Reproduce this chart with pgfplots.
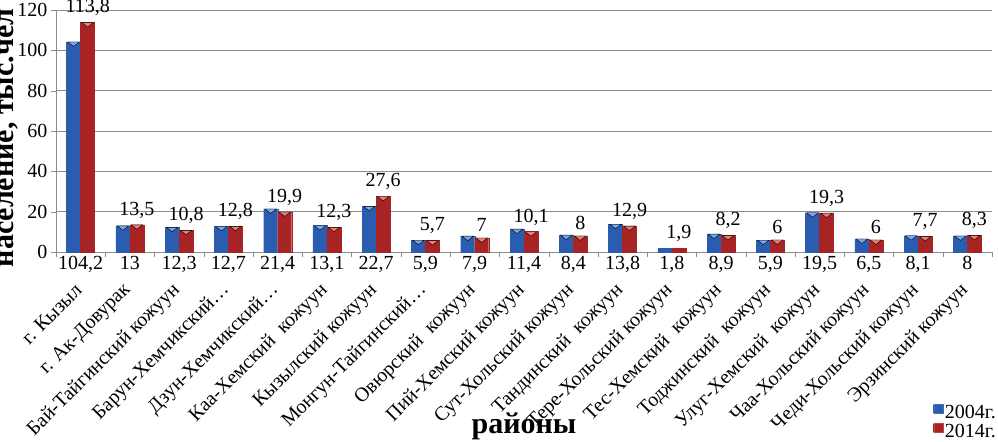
\documentclass[border=0pt]{standalone}
\usepackage{fontspec}
\setmainfont{Liberation Serif}
\usepackage{pgfplots}
\pgfplotsset{compat=1.18}

\definecolor{blueL}{HTML}{4E8DE2}
\definecolor{blueD}{HTML}{2A5DB0}
\definecolor{redL}{HTML}{E2514B}
\definecolor{redD}{HTML}{A82323}
\definecolor{gridgray}{HTML}{8C8C8C}

\newcommand\fs{\fontsize{20bp}{23bp}\selectfont}
\newcommand\ft{\fontsize{30bp}{34bp}\selectfont\bfseries}

\begin{document}
\begin{tikzpicture}
\begin{axis}[
  name=ax,
  scale only axis, width=936bp, height=242bp,
  xmin=-0.5, xmax=18.5, ymin=0, ymax=120,
  ybar=0pt, bar width=14bp,
  axis x line*=bottom, axis y line*=left,
  axis line style={draw=gridgray, -},
  ytick={0,20,...,120},
  ymajorgrids, grid style={gridgray, line width=0.8bp},
  tick align=outside, major tick length=5bp, minor tick length=5bp,
  y tick style={gridgray},
  xtick={0,...,18},
  major x tick style={draw=none},
  minor xtick={-0.5,0.5,...,18.5},
  minor x tick style={gridgray},
  xticklabels={{г. Кызыл},{г. Ак-Довурак},{Бай-Тайгинский кожуун},{Барун-Хемчикский…},{Дзун-Хемчикский…},{Каа-Хемский~ кожуун},{Кызылский кожуун},{Монгун-Тайгинский…},{Овюрский~ кожуун},{Пий-Хемский кожуун},{Сут-Хольский кожуун},{Тандинский~ кожуун},{Тере-Хольский кожуун},{Тес-Хемский~ кожуун},{Тоджинский~ кожуун},{Улуг-Хемский~ кожуун},{Чаа-Хольский кожуун},{Чеди-Хольский кожуун},{Эрзинский кожуун}},
  xticklabel style={font=\fs, inner sep=0pt, anchor=east, xshift=-2bp, yshift=-30bp, rotate=45},
  yticklabel style={font=\fs},
  /pgf/number format/assume math mode=true,
  /pgf/number format/use comma, /pgf/number format/fixed, /pgf/number format/precision=1,
  ylabel={\ft население, тыс.чел},
  ylabel style={at={(axis description cs:-0.045,0.471)}, anchor=base},
  xlabel={\ft районы},
  xlabel style={at={(axis description cs:0.5,-0.748)}, anchor=base},
  legend style={at={(axis description cs:1,0)}, anchor=north east, xshift=6bp, yshift=-151bp,
    draw=none, fill=none, font=\fs, inner sep=0pt, row sep=0bp,
    /tikz/every even column/.append style={column sep=2bp}},
  legend cell align=left,
]
\addplot[draw=blueD, line width=0.3bp, left color=blueD, middle color=blueL, right color=blueD,
  legend image code/.code={\fill[blueL!80!black] (0bp,-1bp) rectangle (9bp,8bp);}]
  coordinates {(0,104.2) (1,13) (2,12.3) (3,12.7) (4,21.4) (5,13.1) (6,22.7) (7,5.9) (8,7.9) (9,11.4)
  (10,8.4) (11,13.8) (12,1.8) (13,8.9) (14,5.9) (15,19.5) (16,6.5) (17,8.1) (18,8)};
\addlegendentry{2004г.}
\addplot[draw=redD, line width=0.3bp, left color=redD, middle color=redL, right color=redD,
  legend image code/.code={\fill[redL!85!black] (0bp,-1bp) rectangle (9bp,8bp);},
  nodes near coords,
  every node near coord/.append style={font=\fs, text=black, yshift=3bp}]
  coordinates {(0,113.8) (1,13.5) (2,10.8) (3,12.8) (4,19.9) (5,12.3) (6,27.6) (7,5.7) (8,7) (9,10.1)
  (10,8) (11,12.9) (12,1.9) (13,8.2) (14,6) (15,19.3) (16,6) (17,7.7) (18,8.3)};
\addlegendentry{2014г.}
% light caps on the bar tops (the 3D look of the original)
\addplot[sharp plot, draw=none, forget plot, mark=triangle*, mark size=6.6bp,
  mark options={yshift=-1.6bp, rotate=180, yscale=0.45, fill=blueL!75!white, draw=none}]
  coordinates {(-0.142,104.2) (0.858,13) (1.858,12.3) (2.858,12.7) (3.858,21.4) (4.858,13.1) (5.858,22.7)
  (6.858,5.9) (7.858,7.9) (8.858,11.4) (9.858,8.4) (10.858,13.8) (12.858,8.9) (13.858,5.9)
  (14.858,19.5) (15.858,6.5) (16.858,8.1) (17.858,8)};
\addplot[sharp plot, draw=none, forget plot, mark=triangle*, mark size=6.6bp,
  mark options={yshift=-1.6bp, rotate=180, yscale=0.45, fill=redL!75!white, draw=none}]
  coordinates {(0.142,113.8) (1.142,13.5) (2.142,10.8) (3.142,12.8) (4.142,19.9) (5.142,12.3) (6.142,27.6)
  (7.142,5.7) (8.142,7) (9.142,10.1) (10.142,8) (11.142,12.9) (13.142,8.2) (14.142,6)
  (15.142,19.3) (16.142,6) (17.142,7.7) (18.142,8.3)};
% 2004 values written under the axis
\addplot[sharp plot, draw=none, forget plot, point meta=explicit symbolic,
  nodes near coords, nodes near coords align={below},
  every node near coord/.append style={font=\fs, text=black, anchor=north, inner sep=0pt, xshift=-7bp, yshift=-4bp}]
  coordinates {(0,0) [104,2] (1,0) [13] (2,0) [12,3] (3,0) [12,7] (4,0) [21,4] (5,0) [13,1] (6,0) [22,7]
  (7,0) [5,9] (8,0) [7,9] (9,0) [11,4] (10,0) [8,4] (11,0) [13,8] (12,0) [1,8] (13,0) [8,9]
  (14,0) [5,9] (15,0) [19,5] (16,0) [6,5] (17,0) [8,1] (18,0) [8]};
\end{axis}
\pgfresetboundingbox
\path[use as bounding box] ([xshift=-56bp,yshift=252bp]ax.south west) rectangle ([xshift=942bp,yshift=-190bp]ax.south west);
\end{tikzpicture}
\end{document}
